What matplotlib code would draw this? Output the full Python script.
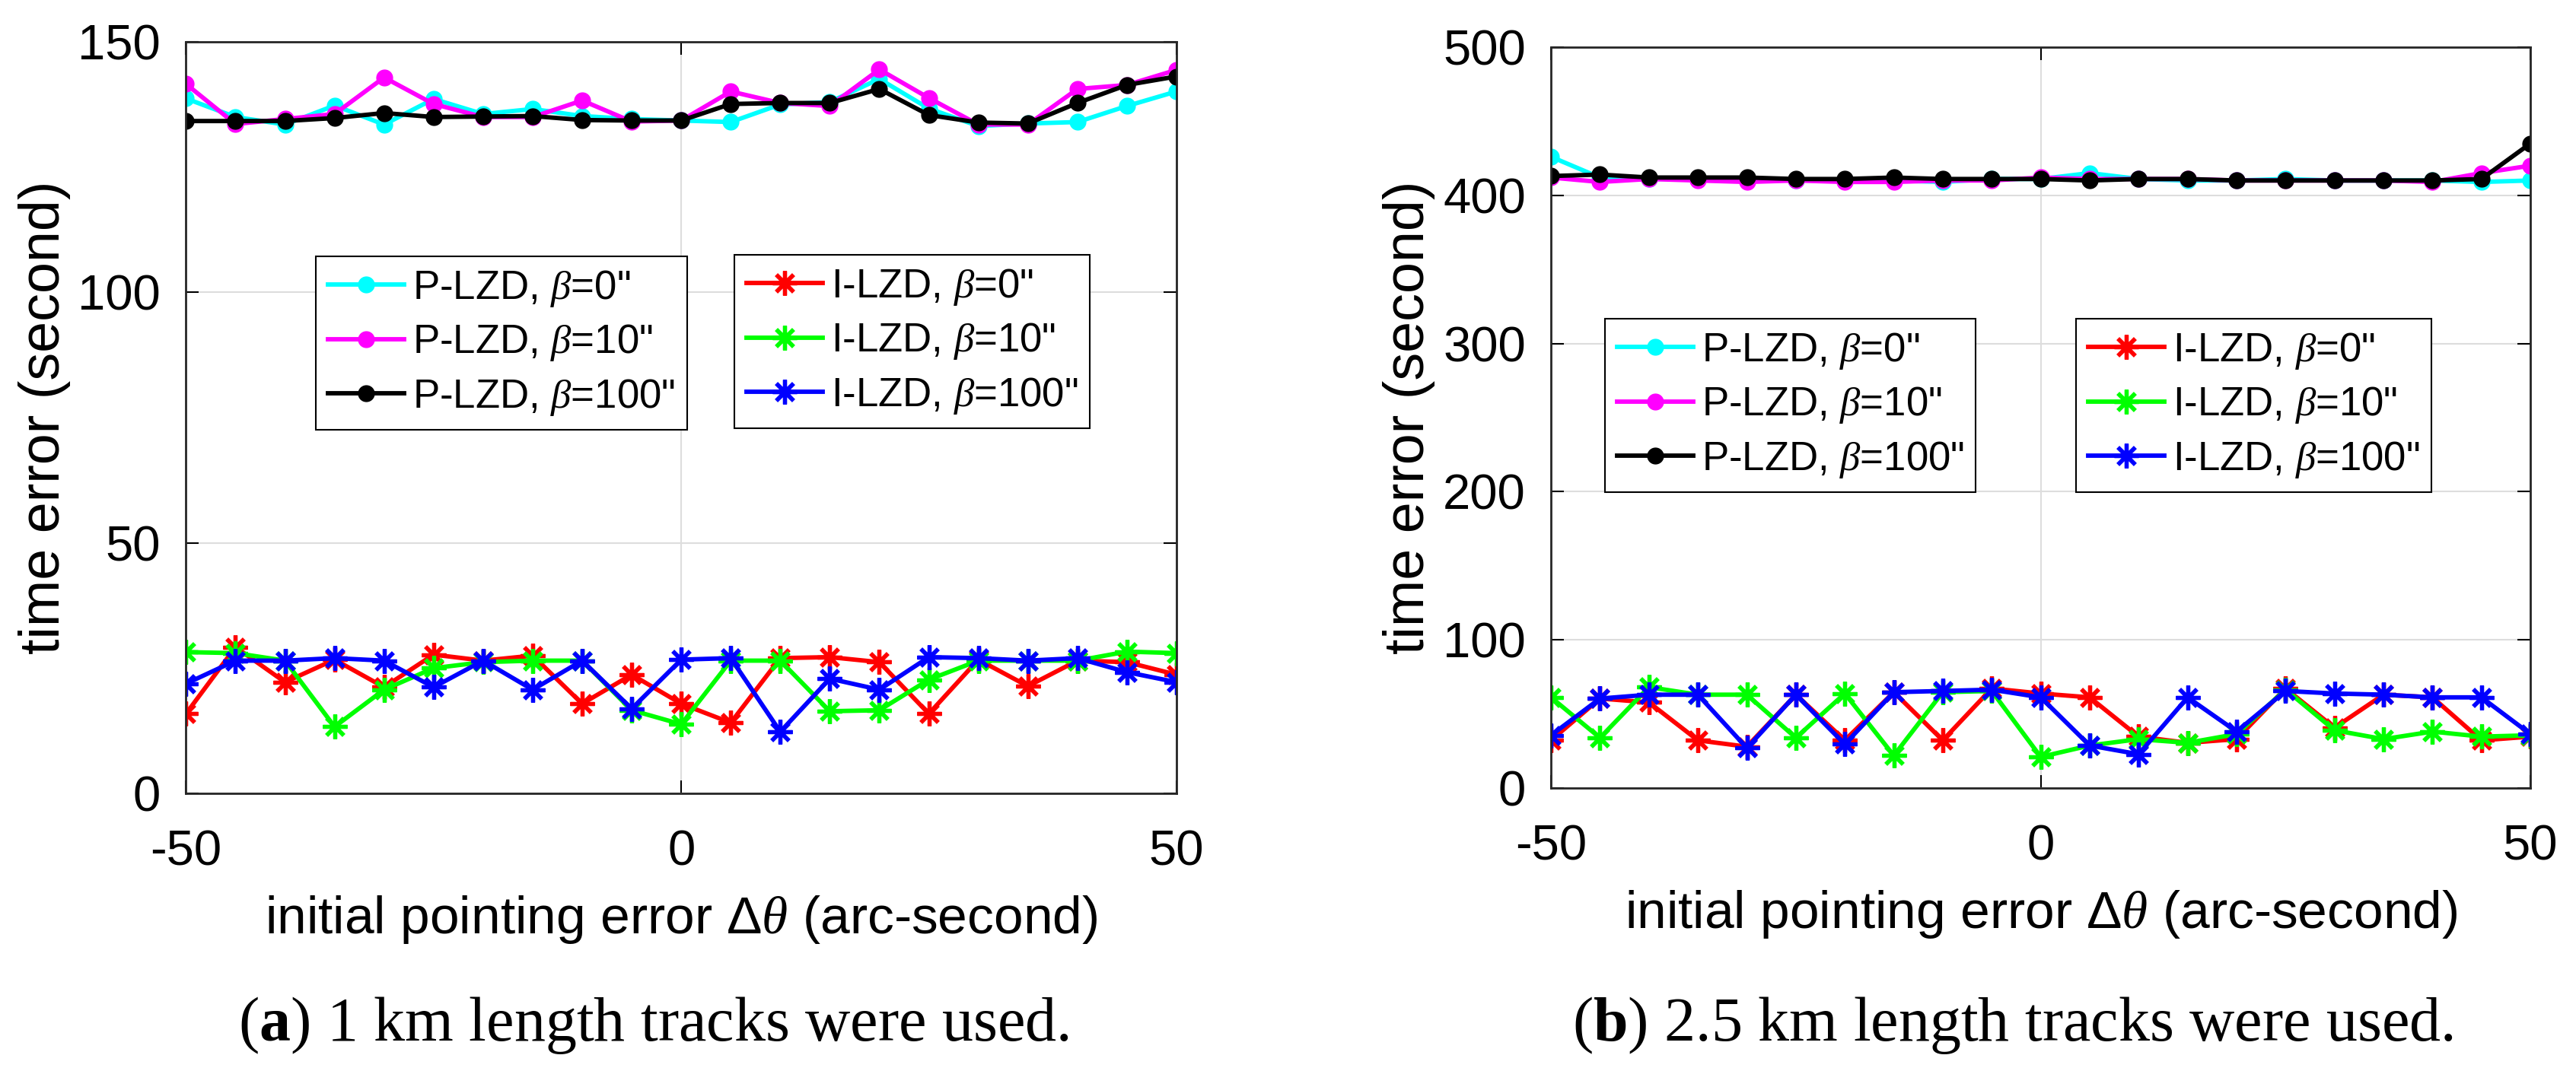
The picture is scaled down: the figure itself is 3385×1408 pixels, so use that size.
import matplotlib
matplotlib.use("Agg")
import matplotlib.pyplot as plt

plt.rcParams['font.family'] = ['Liberation Sans', 'DejaVu Sans']
plt.rcParams['mathtext.fontset'] = 'custom'
plt.rcParams['mathtext.rm'] = 'Liberation Sans'
plt.rcParams['mathtext.it'] = 'Liberation Serif:italic'
plt.rcParams['mathtext.bf'] = 'Liberation Serif:bold'
plt.rcParams['axes.unicode_minus'] = False

# pointing error (arc-second)
theta = [-50, -45, -40, -35, -30, -25, -20, -15, -10, -5, 0,
         5, 10, 15, 20, 25, 30, 35, 40, 45, 50]

# (a) 1 km tracks
p0_a = [138.7, 135.0, 133.5, 137.3, 133.5, 138.6, 135.6, 136.6, 135.2, 134.6, 134.3,
        134.0, 137.5, 138.0, 142.6, 136.7, 133.2, 133.7, 134.0, 137.2, 140.1]
p10_a = [141.6, 133.6, 134.6, 135.6, 142.9, 137.6, 135.0, 135.0, 138.3, 134.1, 134.3,
         140.1, 137.8, 137.2, 144.5, 138.8, 133.5, 133.5, 140.6, 141.4, 144.4]
p100_a = [134.2, 134.2, 134.2, 134.8, 135.8, 135.0, 135.1, 135.2, 134.4, 134.3, 134.3,
          137.6, 137.8, 137.8, 140.6, 135.4, 133.9, 133.7, 137.8, 141.4, 143.1]
i0_a = [15.9, 29.2, 22.2, 26.7, 21.2, 27.7, 26.5, 27.5, 17.9, 23.7, 17.9,
        14.1, 27.0, 27.2, 26.2, 15.9, 26.7, 21.4, 26.5, 26.2, 23.7]
i10_a = [28.2, 28.0, 26.5, 13.3, 20.7, 25.0, 26.2, 26.5, 26.5, 16.6, 13.8,
         26.5, 26.5, 16.4, 16.6, 22.7, 26.5, 26.5, 26.5, 28.3, 28.0]
i100_a = [21.9, 26.5, 26.5, 27.0, 26.5, 21.2, 26.5, 20.7, 26.5, 16.9, 26.7,
          27.0, 12.3, 22.9, 20.7, 27.2, 27.0, 26.5, 27.0, 24.2, 22.2]

# (b) 2.5 km tracks
p0_b = [426, 412, 411, 411, 411, 410, 410, 410, 409, 411, 411,
        415, 411, 410, 410, 411, 410, 410, 410, 409, 410]
p10_b = [412, 409, 411, 410, 409, 410, 409, 409, 410, 410, 412,
         411, 411, 411, 410, 410, 410, 410, 409, 415, 420]
p100_b = [413, 414, 412, 412, 412, 411, 411, 412, 411, 411, 411,
          410, 411, 411, 410, 410, 410, 410, 410, 411, 435]
i0_b = [32.2, 60.4, 57.8, 32.2, 27.9, 63.0, 32.2, 64.7, 32.2, 67.2, 63.8,
        61.2, 34.7, 30.5, 33.0, 67.2, 40.7, 63.0, 61.2, 32.2, 34.7]
i10_b = [61.2, 33.9, 68.1, 63.0, 63.0, 33.9, 63.8, 21.9, 64.7, 65.5, 21.0,
         28.7, 33.0, 30.5, 36.4, 66.4, 39.0, 33.0, 38.1, 34.7, 35.6]
i100_b = [35.6, 60.4, 63.0, 63.0, 27.0, 63.0, 29.6, 64.7, 65.5, 66.4, 61.2,
          28.7, 22.8, 61.2, 38.1, 65.5, 63.8, 63.0, 61.2, 61.2, 36.4]

p_labels = ['P-LZD, $\\beta$=0"', 'P-LZD, $\\beta$=10"', 'P-LZD, $\\beta$=100"']
i_labels = ['I-LZD, $\\beta$=0"', 'I-LZD, $\\beta$=10"', 'I-LZD, $\\beta$=100"']
p_colors = ['#00ffff', '#ff00ff', '#000000']
i_colors = ['#ff0000', '#00ff00', '#0000ff']

star = (8, 2, 0)

fig = plt.figure(figsize=(33.85, 14.08), dpi=100)
ax_a = fig.add_axes([0.0722, 0.2592, 0.3845, 0.7017])
ax_b = fig.add_axes([0.6021, 0.2642, 0.3802, 0.6918])


def draw(ax, pser, iser, yticks, leg_pos):
    ph = []
    for ys, c, lab in zip(pser, p_colors, p_labels):
        h, = ax.plot(theta, ys, color=c, lw=4.2, marker='o', ms=15, label=lab)
        ph.append(h)
    ih = []
    for ys, c, lab in zip(iser, i_colors, i_labels):
        h, = ax.plot(theta, ys, color=c, lw=4.2, marker=star, ms=23, mew=3.8, label=lab)
        ih.append(h)
    ax.set_xlim(-50, 50)
    ax.set_ylim(yticks[0], yticks[-1])
    ax.set_xticks([-50, 0, 50])
    ax.set_yticks(yticks)
    ax.grid(True, color='#dddddd', lw=1.5)
    ax.tick_params(direction='in', length=12, width=1.5, top=True, right=True,
                   labelsize=47, pad=24)
    ax.tick_params(axis='x', pad=34)
    for s in ax.spines.values():
        s.set_linewidth(2)
        s.set_color('#262626')
    ax.set_xlabel('initial pointing error $\\Delta\\mathit{\\theta}$ (arc-second)',
                  fontsize=50, labelpad=18)
    ax.set_ylabel('time error (second)', fontsize=53, labelpad=7)
    legs = []
    for hs, pos in zip([ph, ih], leg_pos):
        lg = ax.legend(handles=hs, loc='upper left', bbox_to_anchor=pos,
                       bbox_transform=fig.transFigure, borderaxespad=0,
                       fontsize=38, frameon=True, fancybox=False, framealpha=1,
                       edgecolor='black', handlelength=1.9, handletextpad=0.2,
                       labelspacing=0.35, borderpad=0.3)
        lg.get_frame().set_linewidth(1.5)
        legs.append(lg)
    ax.add_artist(legs[0])


draw(ax_a, [p0_a, p10_a, p100_a], [i0_a, i10_a, i100_a], [0, 50, 100, 150],
     [(0.1226, 0.7607), (0.2851, 0.7621)])
draw(ax_b, [p0_b, p10_b, p100_b], [i0_b, i10_b, i100_b], [0, 100, 200, 300, 400, 500],
     [(0.6230, 0.7024), (0.8059, 0.7024)])

fig.text(0.2538, 0.0426, '($\\mathbf{a}$) 1 km length tracks were used.',
         family='Liberation Serif', fontsize=59, ha='center', va='center')
fig.text(0.7814, 0.0426, '($\\mathbf{b}$) 2.5 km length tracks were used.',
         family='Liberation Serif', fontsize=59, ha='center', va='center')

fig.savefig('out.png', dpi=100)
